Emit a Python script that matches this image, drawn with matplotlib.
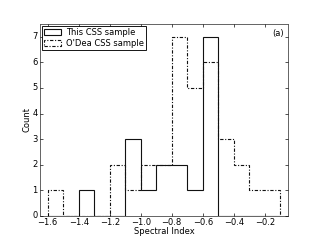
import matplotlib
matplotlib.use("Agg")
import matplotlib.pyplot as plt
import numpy as np

plt.style.use('classic')

edges = [-1.6, -1.5, -1.4, -1.3, -1.2, -1.1, -1.0, -0.9, -0.8, -0.7, -0.6, -0.5, -0.4, -0.3, -0.2, -0.1]
this_counts = [0, 0, 1, 0, 0, 3, 1, 2, 2, 1, 7, 0, 0, 0, 0]
odea_counts = [1, 0, 0, 0, 2, 1, 2, 2, 7, 5, 6, 3, 2, 1, 1]
xticks = [-1.6, -1.4, -1.2, -1.0, -0.8, -0.6, -0.4, -0.2]

fs = 7.5
fig = plt.figure(figsize=(4, 3), dpi=80, facecolor='white')
ax = fig.add_axes([0.125, 0.1, 0.775, 0.8])
centers = (np.array(edges[:-1]) + np.array(edges[1:])) / 2
ax.hist(centers, bins=edges, weights=this_counts, histtype='step', color='#111111',
        linewidth=1.0, linestyle='-', label='This CSS sample')
ax.hist(centers, bins=edges, weights=odea_counts, histtype='step', color='#111111',
        linewidth=1.0, linestyle=(0, (3, 1.5, 1, 1.5)), label="O'Dea CSS sample")
ax.set_xlim(-1.65, -0.05)
ax.set_ylim(0, 7.5)
ax.set_xticks(xticks)
ax.set_yticks(range(0, 8))
ax.tick_params(labelsize=fs, length=3, width=0.6, pad=2)
for s in ax.spines.values():
    s.set_linewidth(0.8)
    s.set_color('#555555')
ax.set_xlabel('Spectral Index', fontsize=fs, labelpad=0)
ax.set_ylabel('Count', fontsize=fs, labelpad=1)
ax.text(0.985, 0.975, '(a)', transform=ax.transAxes, ha='right', va='top', fontsize=fs)
leg = ax.legend(loc='upper left', fontsize=fs, borderaxespad=0.25, handlelength=2.0,
                borderpad=0.25, labelspacing=0.25, handletextpad=0.6)
leg.get_frame().set_linewidth(0.8)
fig.savefig('out.png', dpi=80, facecolor='white')
